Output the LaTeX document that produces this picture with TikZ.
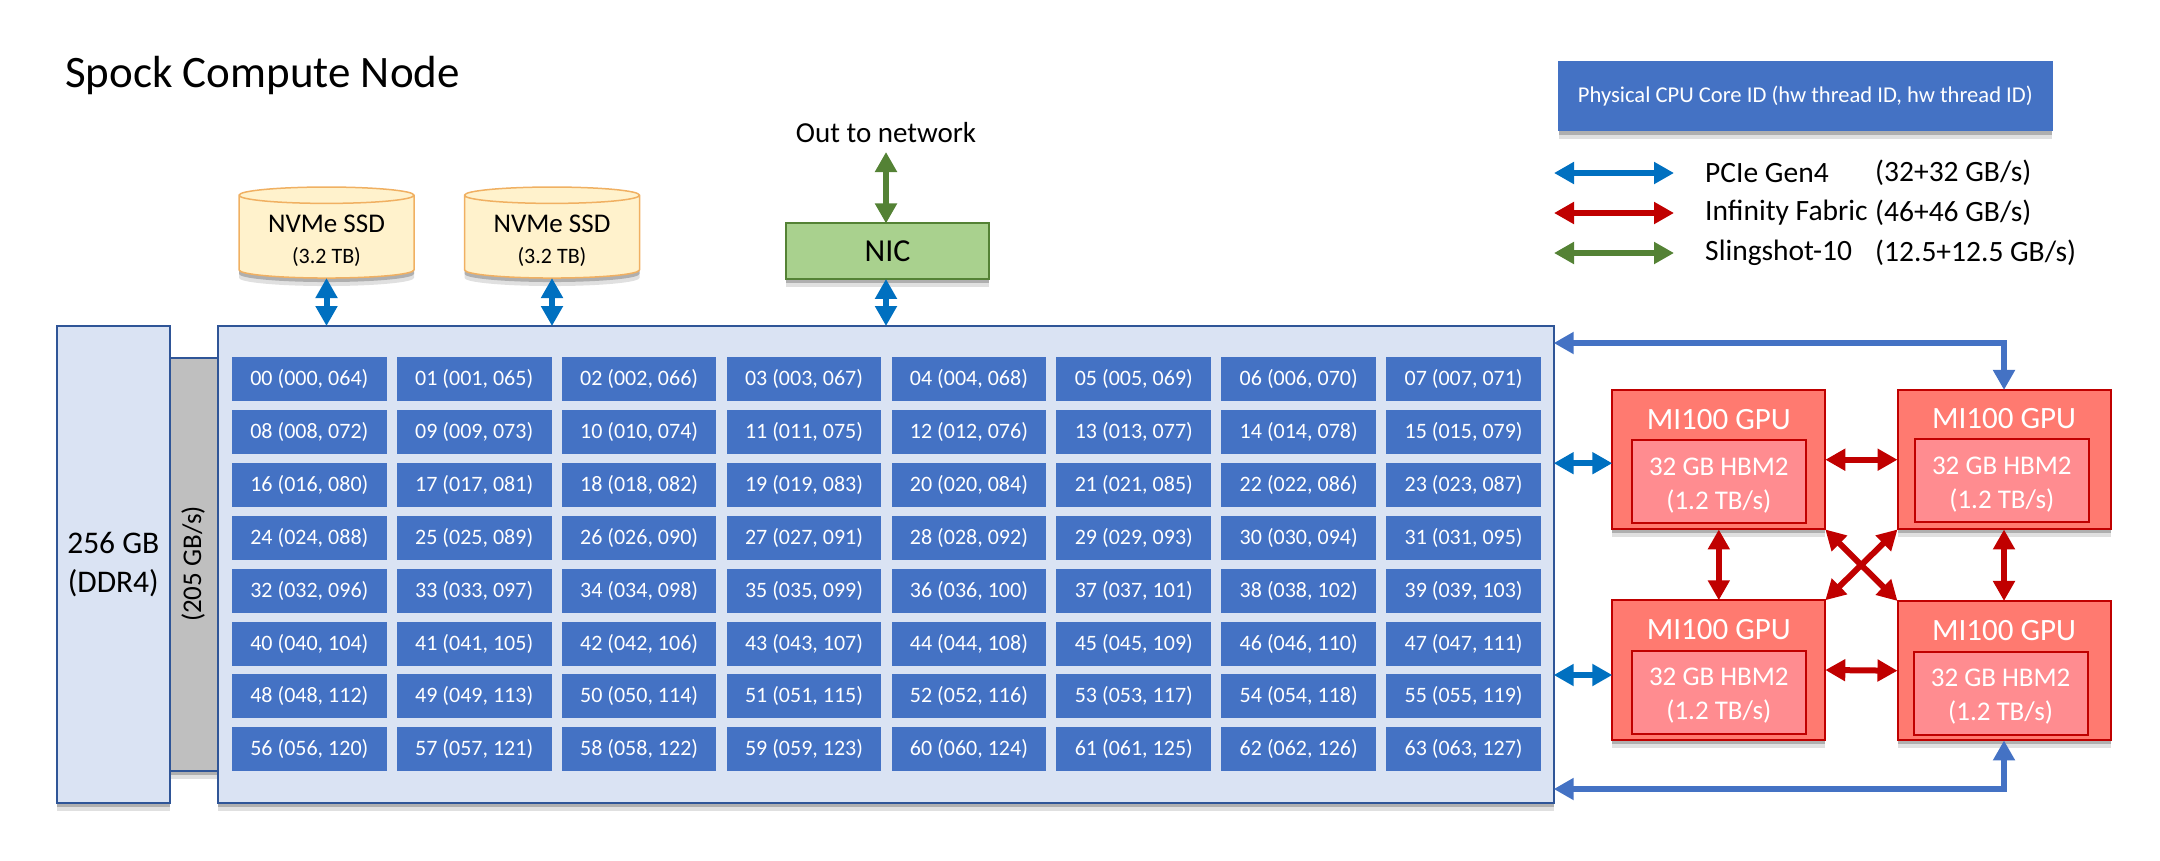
\documentclass[tikz,border=0pt]{standalone}
\usepackage{fontspec}
\setmainfont{Carlito}
\usetikzlibrary{arrows.meta,shapes.geometric,shadows}
\definecolor{corefill}{HTML}{DAE3F3}
\definecolor{coreline}{HTML}{2F5597}
\definecolor{cellblue}{HTML}{4472C4}
\definecolor{busgrey}{HTML}{BFBFBF}
\definecolor{ssdfill}{HTML}{FFF2CC}
\definecolor{ssdline}{HTML}{F0B062}
\definecolor{nicfill}{HTML}{A9D18E}
\definecolor{nicline}{HTML}{548235}
\definecolor{gpufill}{HTML}{FF7A70}
\definecolor{memfill}{HTML}{FF8C90}
\definecolor{gpuline}{HTML}{C00000}
\definecolor{pciecol}{HTML}{0070C0}
\newcommand{\twodig}[1]{\ifnum#1<10 0\fi#1}
\newcommand{\threedig}[1]{\ifnum#1<100 0\fi\ifnum#1<10 0\fi#1}
\newcommand{\fsize}[1]{\fontsize{#1}{#1}\selectfont}
\newcommand{\dropline}[1]{\rule{0pt}{#1}}
\tikzset{
    softshadow/.style={drop shadow={shadow xshift=0pt,shadow yshift=-4pt,fill=black,opacity=.22},
        drop shadow={shadow xshift=0pt,shadow yshift=-8pt,fill=black,opacity=.12}},
    boxnode/.style={draw, rectangle, inner sep=0pt, outer sep=0pt},
    cell/.style={rectangle, fill=cellblue, text=white, inner sep=0pt, outer sep=0pt,
        minimum width=154.7, minimum height=44, font=\fsize{22}},
    link/.style={line width=6pt, {Triangle[length=20pt,width=21pt]}-{Triangle[length=20pt,width=21pt]}},
    ssd/.style={draw=ssdline, line width=1.5pt, cylinder, shape border rotate=90, aspect=0.14,
        fill=ssdfill, minimum width=175, minimum height=91, inner sep=0pt, outer sep=0pt,
        align=center, softshadow},
    gpu/.style={boxnode, draw=gpuline, line width=2pt, fill=gpufill, minimum width=213, minimum height=139.5, softshadow},
    gpumem/.style={boxnode, draw=gpuline, line width=2pt, fill=memfill, text=white, minimum width=174, minimum height=83,
        align=center, font=\fontsize{27}{34}\selectfont},
    gputitle/.style={text=white, inner sep=0pt, font=\fsize{31}},
    keytext/.style={anchor=west, inner sep=0pt, font=\fsize{29.5}},
}
\begin{document}
\begin{tikzpicture}[x=1pt,y=-1pt]
    \useasboundingbox (0,0) rectangle (2160,860);
    \node[anchor=base west, inner sep=0pt, font=\fsize{45}] (title) at (65,87) {Spock Compute Node};

    % memory and the bus beside it
    \node[boxnode, draw=coreline, line width=1.5pt, fill=busgrey, minimum width=50, minimum height=413, softshadow] (bus) at (194,564.5) {};
    \node[rotate=90, inner sep=0pt, font=\fsize{27}] (buslabel) at (193,564) {(205 GB/s)};
    \node[boxnode, draw=coreline, line width=2pt, fill=corefill, minimum width=113.5, minimum height=477, align=center,
        font=\fontsize{31.5}{39}\selectfont, softshadow] (mem) at (113.3,564.5) {256 GB\\(DDR4)};
    \node[boxnode, draw=coreline, line width=2pt, fill=corefill, minimum width=1336, minimum height=477, softshadow] (core) at (885.7,564.5) {};

    % cores, eight by eight
    \foreach \row in {0,...,7} {
        \foreach \col in {0,...,7} {
            \pgfmathtruncatemacro{\coreid}{\row*8+\col}
            \pgfmathtruncatemacro{\hwtwo}{\coreid+64}
            \node[cell] (cell\coreid) at (309.3+\col*164.9, 379.3+\row*52.86)
                {\twodig{\coreid} (\threedig{\coreid}, \threedig{\hwtwo})};
        }
    }

    % storage and network
    \node[ssd, font=\fsize{27}] (ssdA) at (326.5,237) {\dropline{26pt}NVMe SSD\\[4pt]{\fsize{22}(3.2 TB)}};
    \node[ssd, font=\fsize{27}] (ssdB) at (552,237) {\dropline{26pt}NVMe SSD\\[4pt]{\fsize{22}(3.2 TB)}};
    \node[boxnode, draw=nicline, line width=2pt, fill=nicfill, minimum width=203, minimum height=55.5, font=\fsize{32}, softshadow] (nic) at (887.5,251.2) {NIC};
    \node[inner sep=0pt, font=\fsize{29}] (outnet) at (886,133) {Out to network};
    \coordinate (netend) at (886,152);
    \draw[link, color=nicline] (netend) -- (nic.north -| netend);
    \draw[link, color=pciecol] (ssdA.south) -- (core.north -| ssdA.south);
    \draw[link, color=pciecol] (ssdB.south) -- (core.north -| ssdB.south);
    \draw[link, color=pciecol] (nic.south -| netend) -- (core.north -| netend);

    % gpus
    \node[gpu] (gpuA) at (1718.8,459.7) {};
    \node[gpu] (gpuB) at (2004,459.7) {};
    \node[gpu] (gpuC) at (1718.8,670) {};
    \node[gpu] (gpuD) at (2004,670.7) {};
    \foreach \gpuname/\titley/\memx/\memy in {A/419.5/1718.8/481.7, B/418.5/2001.8/480.7, C/629.5/1718.8/692.2, D/630.5/2000.6/693.2} {
        \node[gputitle] (title\gpuname) at (gpu\gpuname |- 0,\titley) {MI100 GPU};
        \node[gpumem] (mem\gpuname) at (\memx,\memy) {\dropline{25pt}32 GB HBM2\\(1.2 TB/s)};
    }
    \draw[link, color=pciecol] ([yshift=-3.5pt]core.east |- gpuA.west) -- ([yshift=-3.5pt]gpuA.west);
    \draw[link, color=pciecol] ([yshift=-5pt]core.east |- gpuC.west) -- ([yshift=-5pt]gpuC.west);
    \draw[link, color=gpuline] (gpuA.east) -- (gpuB.west);
    \draw[link, color=gpuline] (gpuC.east) -- (gpuD.west);
    \draw[link, color=gpuline] (gpuA.south) -- (gpuC.north);
    \draw[link, color=gpuline] (gpuB.south) -- (gpuD.north);
    \draw[link, color=gpuline] (gpuA.south east) -- (gpuD.north west);
    \draw[link, color=gpuline] (gpuB.south west) -- (gpuC.north east);
    \coordinate (topturn) at (2004,343);
    \coordinate (botturn) at (2004,789);
    \draw[link, color=cellblue] (core.east |- topturn) -- (topturn) -- (gpuB.north);
    \draw[link, color=cellblue] (core.east |- botturn) -- (botturn) -- (gpuD.south);

    % legend
    \node[boxnode, draw=cellblue, fill=cellblue, text=white, minimum width=493.5, minimum height=69.5, font=\fsize{22.6}, softshadow] (legendbox) at (1805.3,95.8) {Physical CPU Core ID (hw thread ID, hw thread ID)};
    \foreach \linkname/\linkrate/\linkcol/\liney in {PCIe Gen4/{(32+32 GB/s)}/pciecol/173, Infinity Fabric/{(46+46 GB/s)}/gpuline/213, Slingshot-10/{(12.5+12.5 GB/s)}/nicline/253} {
        \coordinate (keyL\liney) at (1554,\liney);
        \coordinate (keyR\liney) at (1674,\liney);
        \draw[link, color=\linkcol] (keyL\liney) -- (keyR\liney);
        \node[keytext] (keyname\liney) at (1705,\liney) {\linkname};
        \node[keytext] (keyrate\liney) at (1875,\liney) {\linkrate};
    }
\end{tikzpicture}
\end{document}
